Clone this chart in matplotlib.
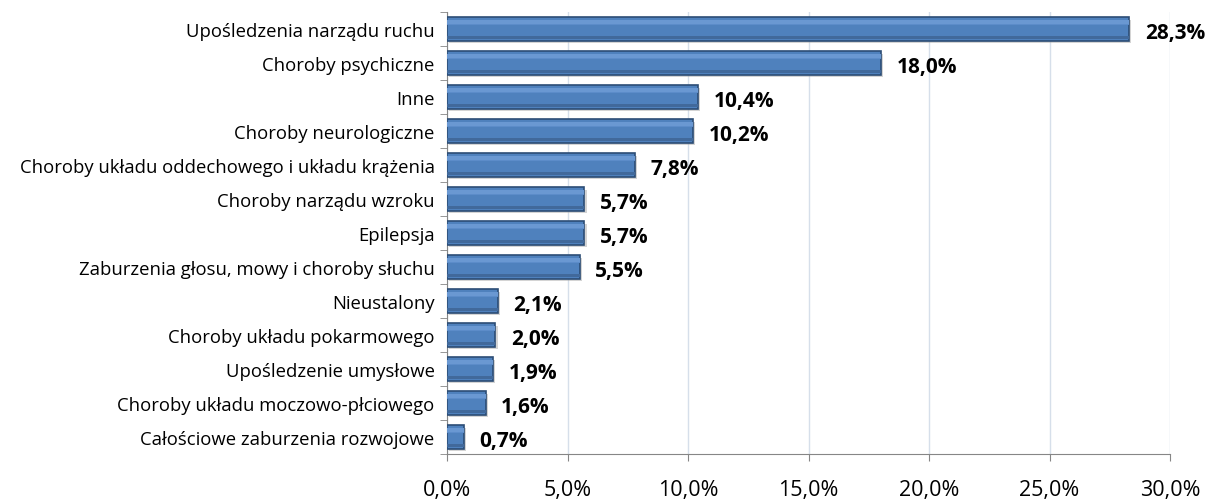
import matplotlib.pyplot as plt
import numpy as np

categories = [
    'Upośledzenia narządu ruchu',
    'Choroby psychiczne',
    'Inne',
    'Choroby neurologiczne',
    'Choroby układu oddechowego i układu krążenia',
    'Choroby narządu wzroku',
    'Epilepsja',
    'Zaburzenia głosu, mowy i choroby słuchu',
    'Nieustalony',
    'Choroby układu pokarmowego',
    'Upośledzenie umysłowe',
    'Choroby układu moczowo-płciowego',
    'Całościowe zaburzenia rozwojowe',
]
values = [28.3, 18.0, 10.4, 10.2, 7.8, 5.7, 5.7, 5.5, 2.1, 2.0, 1.9, 1.6, 0.7]
xticks = [0, 5, 10, 15, 20, 25, 30]

plt.rcParams['font.family'] = ['Open Sans', 'DejaVu Sans']

fig = plt.figure(figsize=(12.17, 5.02), dpi=100)
ax = fig.add_axes([447 / 1217, 1 - 455 / 502, (1170 - 447) / 1217, (455 - 13) / 502])

n = len(categories)
y = np.arange(n)[::-1]
h = 0.69

# shadow
ax.barh(y - 0.07, values, height=h, left=0.1, color='#a0a0a0', alpha=0.45, zorder=2)
# main bar
ax.barh(y, values, height=h, color='#4f81bd', edgecolor='#2c4d75', linewidth=1.2, zorder=3)
# soft bevel: lighter top, darker bottom
ax.barh(y + h * 0.30, values, height=h * 0.14, color='#6a98d2', linewidth=0, zorder=4)
ax.barh(y + h * 0.19, values, height=h * 0.08, color='#5c8cc9', linewidth=0, zorder=4)
ax.barh(y - h * 0.36, values, height=h * 0.12, color='#41699b', linewidth=0, zorder=4)

for yi, v in zip(y, values):
    ax.text(v + 0.65, yi - 0.1, f'{v:.1f}%'.replace('.', ','), va='center', ha='left',
            fontsize=15, fontweight='bold', color='black', zorder=5)

ax.set_xlim(0, 30)
ax.set_ylim(-0.5, n - 0.5)
ax.set_xticks(xticks)
ax.set_xticklabels([f'{t:.1f}%'.replace('.', ',') for t in xticks], fontsize=15.5)
ax.set_yticks(y)
ax.set_yticklabels(categories, fontsize=13.3)
ax.tick_params(axis='y', length=0, pad=9)
ax.set_yticks(np.arange(-0.5, n, 1), minor=True)
ax.tick_params(axis='y', which='minor', length=5, color='#868686', direction='out')
ax.tick_params(axis='x', length=5, color='#868686', pad=13)

ax.xaxis.grid(True, color='#d6dfea', linewidth=1)
ax.set_axisbelow(True)
for s in ['top', 'right']:
    ax.spines[s].set_visible(False)
for s in ['left', 'bottom']:
    ax.spines[s].set_color('#868686')

fig.savefig('out.png', dpi=100)
